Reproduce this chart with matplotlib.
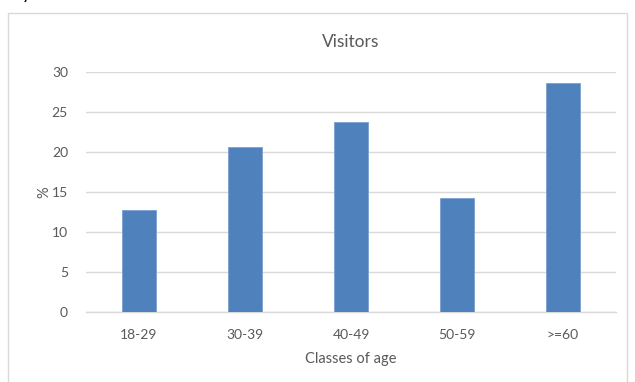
import matplotlib
matplotlib.use('Agg')
import matplotlib.pyplot as plt
from matplotlib.patches import Rectangle

categories = ['18-29', '30-39', '40-49', '50-59', '>=60']
values = [12.7, 20.6, 23.8, 14.3, 28.6]
yticks = [0, 5, 10, 15, 20, 25, 30]

plt.rcParams['font.family'] = ['Lato', 'DejaVu Sans']
grey = '#595959'

fig = plt.figure(figsize=(6.35, 3.82), dpi=100)
W, H = 635, 382
ax = fig.add_axes([86 / W, 1 - 312 / H, 530 / W, 240 / H])

# chart frame (cut off at the bottom, like the screenshot)
fig.patches.append(Rectangle((8 / W, -0.05), 619 / W, 1.05 - 13 / H,
                             transform=fig.transFigure, fill=False,
                             edgecolor='#d9d9d9', linewidth=1))

x = range(len(categories))
ax.bar(x, values, width=0.32, color='#4f81bd', edgecolor='#7a9fd0', linewidth=0.6, zorder=3)

ax.set_xlim(-0.5, 4.5)
ax.set_ylim(0, 30)
ax.set_yticks(yticks)
ax.set_xticks(list(x))
ax.set_xticklabels(categories)
ax.yaxis.grid(True, color='#d9d9d9', linewidth=1)
ax.set_axisbelow(True)
for s in ['top', 'right', 'left']:
    ax.spines[s].set_visible(False)
ax.spines['bottom'].set_color('#d9d9d9')
ax.spines['bottom'].set_linewidth(1)
ax.tick_params(axis='both', length=0, colors=grey, labelsize=10)
ax.tick_params(axis='y', pad=13)
ax.tick_params(axis='x', pad=12)

ax.set_title('Visitors', color=grey, fontsize=12.5, pad=18)
ax.set_xlabel('Classes of age', color=grey, fontsize=10.5, labelpad=8)
ax.set_ylabel('%', color=grey, fontsize=10.5, labelpad=0)

# heading from the page above, mostly cut off
fig.text(12 / W, 1 + 1 / H, 'by visitors', fontsize=13, color='black', va='baseline')

fig.savefig('out.png', dpi=100)
